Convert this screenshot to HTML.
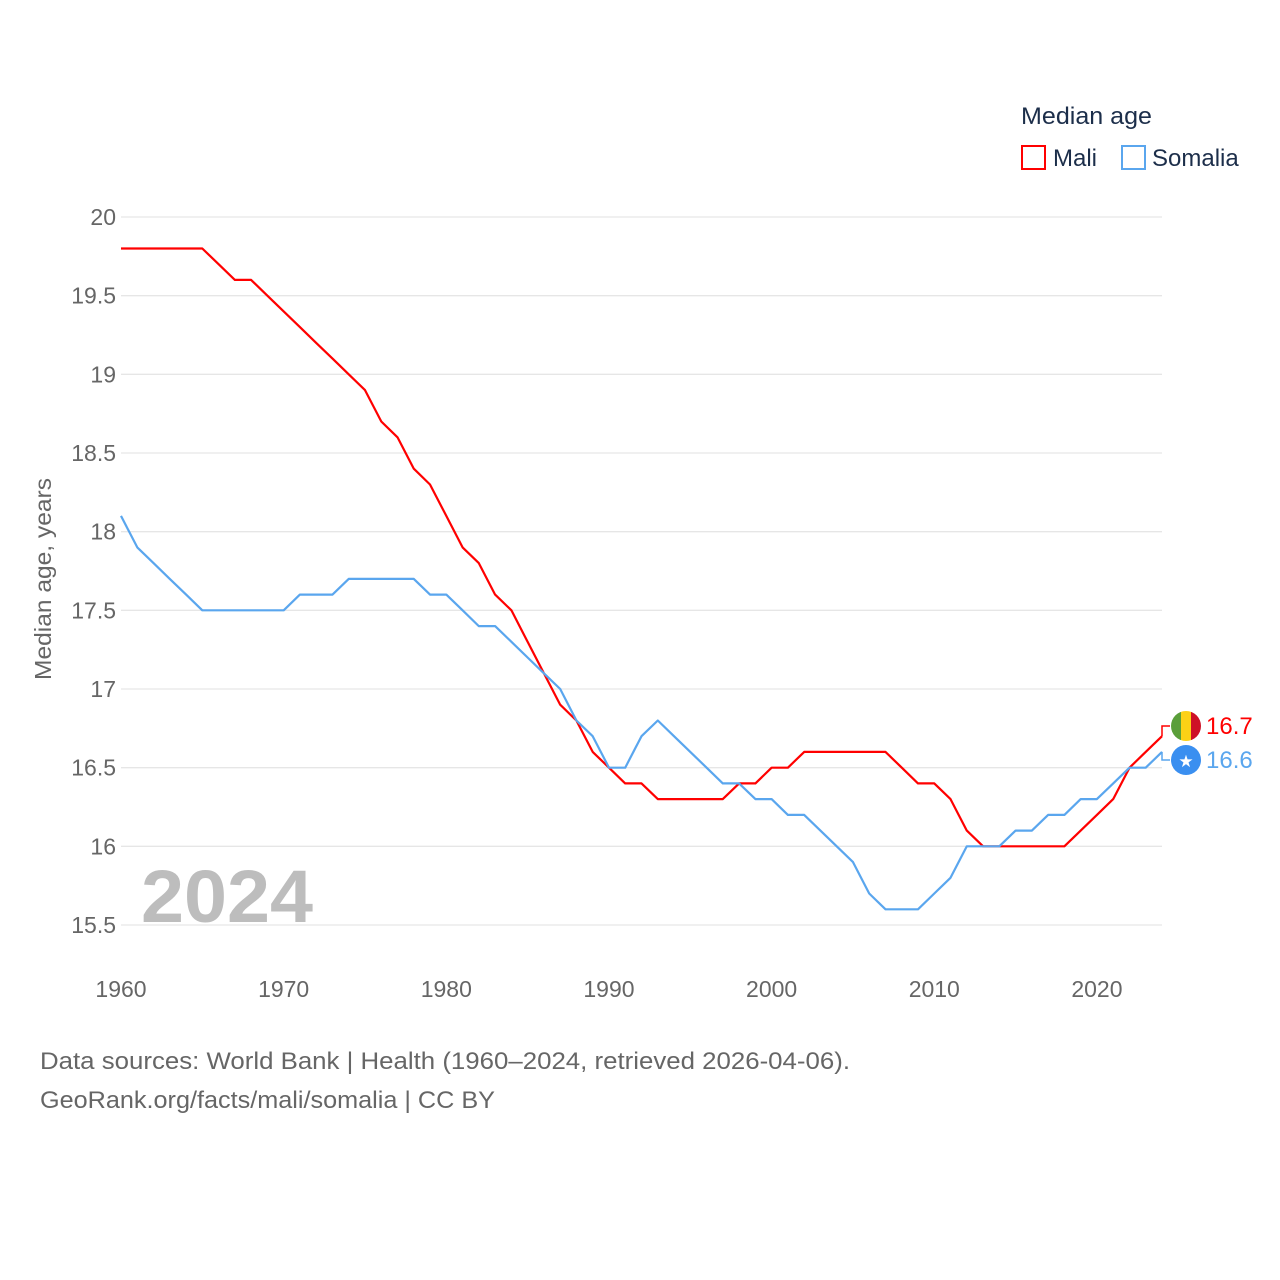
<!DOCTYPE html>
<html><head><meta charset="utf-8"><style>
html,body{margin:0;padding:0;background:#fff;width:1280px;height:1280px;overflow:hidden}
svg{display:block;font-family:"Liberation Sans",sans-serif}
</style></head><body>
<svg id="chart" width="1280" height="1280" viewBox="0 0 1280 1280">
<g id="grid"></g>
<g id="yticks"></g>
<g id="xticks"></g>
<text transform="translate(51,579) rotate(-90)" text-anchor="middle" font-size="23" fill="#666" textLength="202" lengthAdjust="spacingAndGlyphs">Median age, years</text>
<text x="141" y="922" font-size="74" font-weight="bold" fill="#bdbdbd" textLength="172" lengthAdjust="spacingAndGlyphs">2024</text>
<g id="series"></g>
<g>
<text x="1021" y="124" font-size="24" fill="#1c2e4a" textLength="131" lengthAdjust="spacingAndGlyphs">Median age</text>
<rect x="1022" y="146" width="23" height="23" fill="none" stroke="#ff0000" stroke-width="2"/>
<text x="1053" y="166" font-size="24" fill="#1c2e4a">Mali</text>
<rect x="1122" y="146" width="23" height="23" fill="none" stroke="#5aa6ee" stroke-width="2"/>
<text x="1152" y="166" font-size="24" fill="#1c2e4a">Somalia</text>
</g>
<g>
<clipPath id="c1"><circle cx="1186" cy="726" r="15"/></clipPath>
<g clip-path="url(#c1)"><rect x="1171" y="711" width="10" height="30" fill="#5a9e3a"/><rect x="1181" y="711" width="10" height="30" fill="#fcd116"/><rect x="1191" y="711" width="10" height="30" fill="#ce1126"/></g>
</g>
<g>
<circle cx="1186" cy="760" r="15" fill="#3a8ff0"/>
<text x="1186" y="767" text-anchor="middle" font-size="17" fill="#fff">★</text>
</g>
<text id="lblM" x="1206" y="734" font-size="24" fill="#ff0000">16.7</text>
<text id="lblS" x="1206" y="768" font-size="24" fill="#5aa6ee">16.6</text>
<text x="40" y="1069" font-size="24" fill="#666" textLength="810" lengthAdjust="spacingAndGlyphs">Data sources: World Bank | Health (1960–2024, retrieved 2026-04-06).</text>
<text x="40" y="1108" font-size="24" fill="#666" textLength="455" lengthAdjust="spacingAndGlyphs">GeoRank.org/facts/mali/somalia | CC BY</text>
</svg>
<script>
const years=[];for(let y=1960;y<=2024;y++)years.push(y);
const mali=[19.8,19.8,19.8,19.8,19.8,19.8,19.7,19.6,19.6,19.5,19.4,19.3,19.2,19.1,19.0,18.9,18.7,18.6,18.4,18.3,18.1,17.9,17.8,17.6,17.5,17.3,17.1,16.9,16.8,16.6,16.5,16.4,16.4,16.3,16.3,16.3,16.3,16.3,16.4,16.4,16.5,16.5,16.6,16.6,16.6,16.6,16.6,16.6,16.5,16.4,16.4,16.3,16.1,16.0,16.0,16.0,16.0,16.0,16.0,16.1,16.2,16.3,16.5,16.6,16.7];
const somalia=[18.1,17.9,17.8,17.7,17.6,17.5,17.5,17.5,17.5,17.5,17.5,17.6,17.6,17.6,17.7,17.7,17.7,17.7,17.7,17.6,17.6,17.5,17.4,17.4,17.3,17.2,17.1,17.0,16.8,16.7,16.5,16.5,16.7,16.8,16.7,16.6,16.5,16.4,16.4,16.3,16.3,16.2,16.2,16.1,16.0,15.9,15.7,15.6,15.6,15.6,15.7,15.8,16.0,16.0,16.0,16.1,16.1,16.2,16.2,16.3,16.3,16.4,16.5,16.5,16.6];
const yTicks=[15.5,16,16.5,17,17.5,18,18.5,19,19.5,20];
const yTickLabels=["15.5","16","16.5","17","17.5","18","18.5","19","19.5","20"];
const xTicks=[1960,1970,1980,1990,2000,2010,2020];
const NS="http://www.w3.org/2000/svg";
const X0=121,X1=1162,Y0=925,Y1=217;
const xs=y=>X0+(y-1960)*(X1-X0)/(2024-1960);
const ys=v=>Y0-(v-15.5)*(Y0-Y1)/(20-15.5);
function mk(tag,attrs,parent){const e=document.createElementNS(NS,tag);for(const k in attrs)e.setAttribute(k,attrs[k]);parent.appendChild(e);return e;}
const grid=document.getElementById('grid'),yt=document.getElementById('yticks'),xt=document.getElementById('xticks'),ser=document.getElementById('series');
yTicks.forEach((v,i)=>{
 const l=mk('line',{x1:X0,x2:X1,y1:ys(v),y2:ys(v),stroke:'#e6e6e6','stroke-width':1.3},grid);
 
 
 const t=mk('text',{x:116,y:ys(v)+8,'text-anchor':'end','font-size':23,fill:'#666'},yt);
 t.textContent=yTickLabels[i];
 
 
});
xTicks.forEach(y=>{
 const t=mk('text',{x:xs(y),y:997,'text-anchor':'middle','font-size':23,fill:'#666'},xt);
 t.textContent=String(y);
 
 
});
function line(data,color,name){
 const d=data.map((v,i)=>(i?'L':'M')+xs(years[i]).toFixed(1)+','+ys(v).toFixed(1)).join('');
 const p=mk('path',{d:d,fill:'none',stroke:color,'stroke-width':2.2,'stroke-linejoin':'round'},ser);
 
 
}
line(mali,'#ff0000','mali-line');
line(somalia,'#5aa6ee','somalia-line');
const lm=mali[mali.length-1],ls=somalia[somalia.length-1];
const c1=mk('path',{d:`M${X1},${ys(lm)}V726H1170`,fill:'none',stroke:'#ff0000','stroke-width':1.5},ser);


const c2=mk('path',{d:`M${X1},${ys(ls)}V760H1170`,fill:'none',stroke:'#5aa6ee','stroke-width':1.5},ser);


document.getElementById('lblM').textContent=lm.toFixed(1);
document.getElementById('lblS').textContent=ls.toFixed(1);
</script>
</body></html>
